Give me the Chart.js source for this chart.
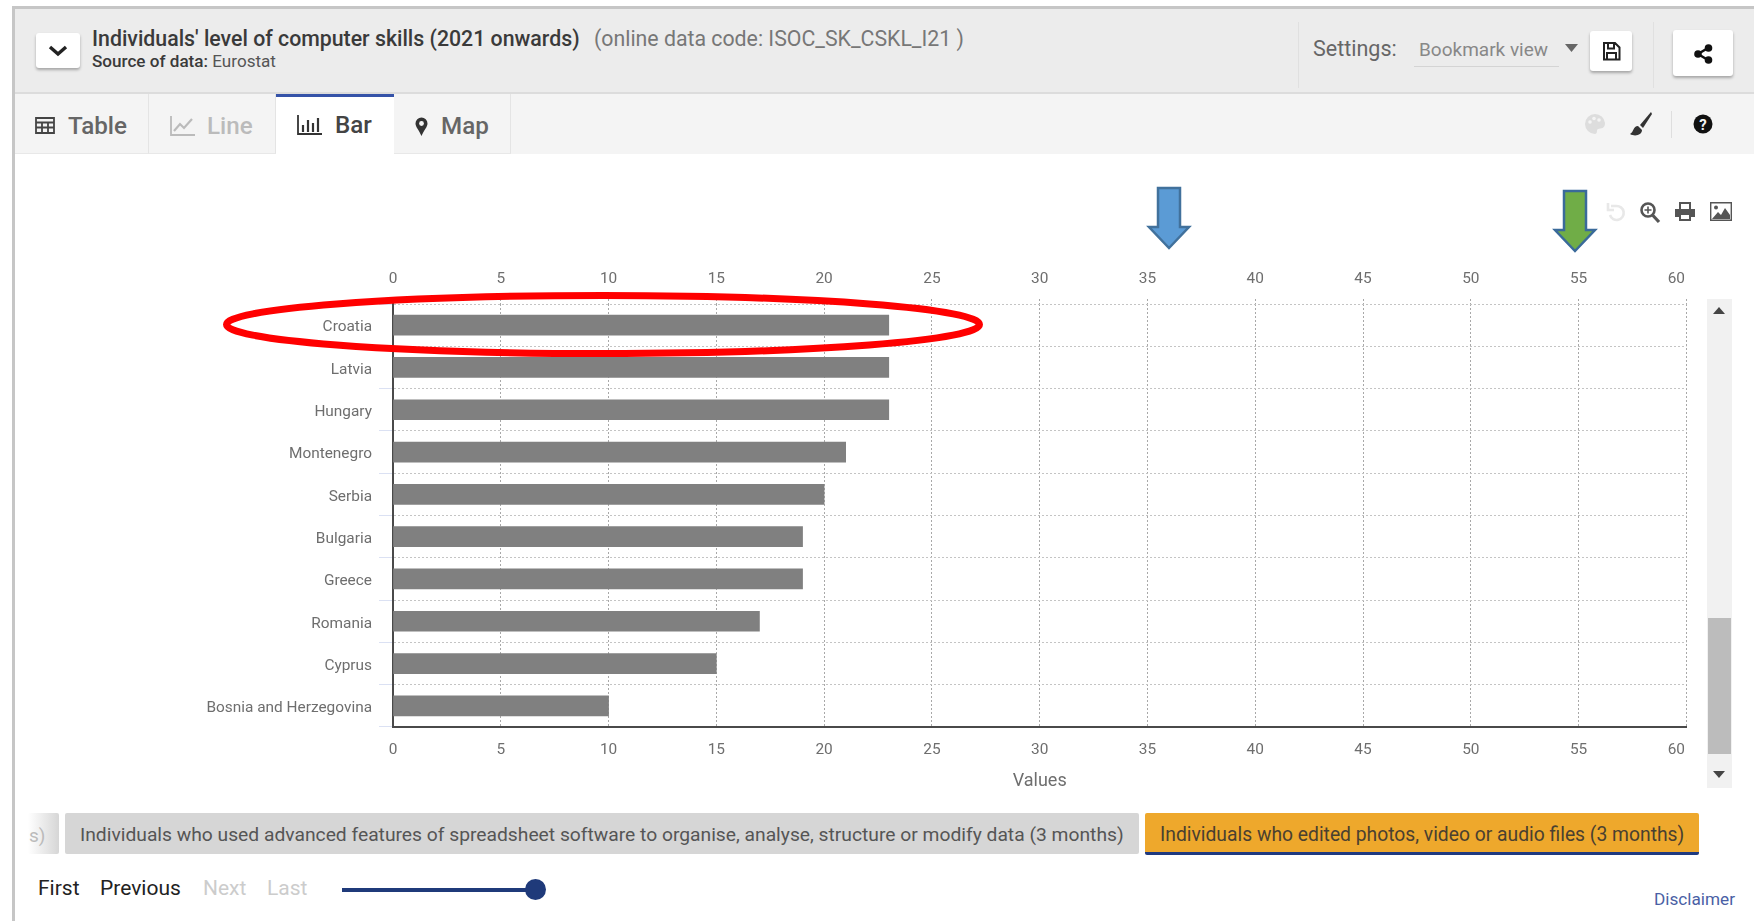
<!DOCTYPE html>
<html>
<head>
<meta charset="utf-8">
<title>Individuals' level of computer skills</title>
<script src="https://cdn.jsdelivr.net/npm/chart.js@4"></script>
<style>
  html, body { margin: 0; padding: 0; background: #fff; }
  body { position: relative; width: 1754px; height: 921px; overflow: hidden; font-family: Roboto, sans-serif; color: #444; }
  .box { position: absolute; box-sizing: border-box; }
  .txt { position: absolute; white-space: nowrap; line-height: 1; transform: translateY(-50%); }
  .btn { background: #fff; border-radius: 3px; box-shadow: 0 2px 3px rgba(0,0,0,.3); }
  .tab { top: 94px; height: 60px; background: #f4f4f4; border-right: 1px solid #e4e4e4; border-bottom: 1px solid #e8e8e8; }
  .ico { position: absolute; overflow: visible; }
  #chartWrap { position: absolute; left: 14px; top: 258px; width: 1695px; height: 540px; }
</style>
</head>
<body>
  <!-- page frame and header -->
  <div class="box" style="left:14px;top:8px;width:1740px;height:86px;background:#ececec;border-bottom:2px solid #dcdcdc"></div>
  <div class="box" style="left:12px;top:6px;width:1742px;height:3px;background:#c6c6c6"></div>
  <div class="box" style="left:12px;top:6px;width:3px;height:915px;background:#c6c6c6"></div>
  <div class="box" style="left:15px;top:94px;width:1739px;height:60px;background:#f4f4f4"></div>

  <div class="box btn" style="left:36px;top:33px;width:44px;height:35px"></div>
  <svg class="ico" style="left:48px;top:45px" width="20" height="12"><path d="M2 2 L10 9 L18 2" fill="none" stroke="#222" stroke-width="3.4"/></svg>

  <div class="txt" style="left:92px;top:39px;font-size:21.3px;font-weight:500;color:#3a3a3a">Individuals' level of computer skills (2021 onwards)</div>
  <div class="txt" style="left:594px;top:39px;font-size:21.3px;color:#777">(online data code: ISOC_SK_CSKL_I21 )</div>
  <div class="txt" style="left:92px;top:62px;font-size:17.1px;color:#555"><b style="font-weight:500;color:#3a3a3a">Source of data:</b> Eurostat</div>

  <div class="box" style="left:1298px;top:22px;width:1px;height:66px;background:#e0e0e0"></div>
  <div class="txt" style="left:1313px;top:49px;font-size:21.5px;color:#666">Settings:</div>
  <div class="txt" style="left:1419px;top:49px;font-size:19px;color:#888">Bookmark view</div>
  <div class="box" style="left:1414px;top:66px;width:145px;height:1px;background:#d4d4d4"></div>
  <svg class="ico" style="left:1565px;top:44px" width="13" height="8"><path d="M0 0 H13 L6.5 8 Z" fill="#666"/></svg>
  <div class="box btn" style="left:1590px;top:31px;width:42px;height:40px"></div>
  <svg class="ico" style="left:1602px;top:42px" width="19" height="19"><path d="M2 1 H13 L17.500 5.500 V17.500 H2 Z M6 1.500 V6.500 H12 V1.500 M5 17 V11 H14 V17" fill="none" stroke="#222" stroke-width="2"/></svg>
  <div class="box" style="left:1653px;top:22px;width:1px;height:66px;background:#e0e0e0"></div>
  <div class="box btn" style="left:1673px;top:30px;width:60px;height:46px"></div>
  <svg class="ico" style="left:1694px;top:44px" width="19" height="20"><path d="M14 4 L4 10 L14 16" fill="none" stroke="#111" stroke-width="2.500"/><circle cx="14.500" cy="4" r="3.800" fill="#111"/><circle cx="4" cy="10" r="3.800" fill="#111"/><circle cx="14.500" cy="16" r="3.800" fill="#111"/></svg>

  <!-- tabs -->
  <div class="box tab" style="left:15px;width:134px"></div>
  <div class="box tab" style="left:149px;width:127px"></div>
  <div class="box" style="left:276px;top:94px;width:118px;height:61px;background:#fff;border-top:3px solid #3553a8"></div>
  <div class="box tab" style="left:394px;width:117px"></div>

  <svg class="ico" style="left:35px;top:117px" width="20" height="17"><path d="M1 1 H19 V16 H1 Z M1 5.500 H19 M1 10.500 H19 M7 5.500 V16 M13 5.500 V16" fill="none" stroke="#444" stroke-width="1.800"/></svg>
  <div class="txt" style="left:68px;top:126px;font-size:24.2px;font-weight:500;color:#666">Table</div>
  <svg class="ico" style="left:170px;top:116px" width="25" height="20"><path d="M1 0 V19 H25" fill="none" stroke="#bbb" stroke-width="1.800"/><path d="M4 15 L10 8 L14 12 L22 3" fill="none" stroke="#bbb" stroke-width="2.200"/></svg>
  <div class="txt" style="left:207px;top:126px;font-size:24.2px;font-weight:500;color:#bbb">Line</div>
  <svg class="ico" style="left:297px;top:115px" width="25" height="20"><path d="M1 0 V19 H25" fill="none" stroke="#333" stroke-width="1.800"/><path d="M6 10 V17 M11 5 V17 M16 8 V17 M21 3 V17" fill="none" stroke="#333" stroke-width="2.200"/></svg>
  <div class="txt" style="left:335px;top:125px;font-size:24.2px;font-weight:500;color:#444">Bar</div>
  <svg class="ico" style="left:415px;top:117px" width="13" height="19"><path d="M6.500 19 C4 13 .5 10 .5 6.500 A6 6 0 0 1 12.500 6.500 C12.500 10 9 13 6.500 19 Z" fill="#333"/><circle cx="6.500" cy="6.500" r="2.400" fill="#f4f4f4"/></svg>
  <div class="txt" style="left:441px;top:126px;font-size:24.2px;font-weight:500;color:#666">Map</div>

  <svg class="ico" style="left:1585px;top:114px" width="20" height="20"><path d="M10 0 A10 10 0 1 0 10 20 C13 20 11 16 13 15 C16 14 20 15 20 9 A10 10 0 0 0 10 0 Z" fill="#ddd"/><circle cx="5" cy="8" r="1.800" fill="#f4f4f4"/><circle cx="9" cy="4.500" r="1.800" fill="#f4f4f4"/><circle cx="14" cy="6" r="1.800" fill="#f4f4f4"/></svg>
  <svg class="ico" style="left:1629px;top:111px" width="23" height="26"><path d="M22 1 L11 14 L14 17 L23 3 Z" fill="#333"/><path d="M9 15 C4 15 5 21 1 23 C6 26 13 24 13 19 Z" fill="#333"/></svg>
  <div class="box" style="left:1671px;top:111px;width:1px;height:27px;background:#dedede"></div>
  <svg class="ico" style="left:1693px;top:114px" width="20" height="20"><circle cx="10" cy="10" r="9.500" fill="#111"/><text x="10" y="15.500" text-anchor="middle" font-family="Roboto" font-size="15" font-weight="700" fill="#f4f4f4">?</text></svg>

  <div id="chartWrap"><canvas id="barChart"></canvas></div>

  <!-- chart toolbar -->
  <svg class="ico" style="left:1607px;top:202px" width="18" height="19"><path d="M4 4 H9 A7 7 0 1 1 3 13" fill="none" stroke="#e8e8e8" stroke-width="2.600"/><path d="M1 1 V8 H7" fill="none" stroke="#e8e8e8" stroke-width="2.600"/></svg>
  <svg class="ico" style="left:1640px;top:202px" width="20" height="21"><circle cx="8" cy="8" r="6.500" fill="none" stroke="#555" stroke-width="2.600"/><path d="M12.500 13 L19 20" stroke="#555" stroke-width="3.200"/><path d="M8 4.500 V11.500 M4.500 8 H11.500" stroke="#555" stroke-width="1.600"/></svg>
  <svg class="ico" style="left:1675px;top:202px" width="20" height="19"><path d="M5 7 V1 H15 V7" fill="none" stroke="#555" stroke-width="2"/><path d="M0 7 H20 V15 H0 Z" fill="#555"/><path d="M5 12 H15 V18 H5 Z" fill="#fff" stroke="#555" stroke-width="2"/></svg>
  <svg class="ico" style="left:1710px;top:202px" width="22" height="19"><path d="M.7 .7 H21.300 V18.300 H.7 Z" fill="#fff" stroke="#555" stroke-width="1.400"/><circle cx="6" cy="5.500" r="2" fill="#555"/><path d="M2 17 L8 10 L11 13 L15 6 L20 13 V17 Z" fill="#555"/></svg>

  <!-- scrollbar -->
  <div class="box" style="left:1707px;top:299px;width:25px;height:489px;background:#f1f1f1"></div>
  <div class="box" style="left:1708px;top:618px;width:23px;height:136px;background:#bcbcbc"></div>
  <svg class="ico" style="left:1713px;top:307px" width="12" height="7"><path d="M6 0 L12 7 H0 Z" fill="#444"/></svg>
  <svg class="ico" style="left:1713px;top:771px" width="12" height="7"><path d="M6 7 L12 0 H0 Z" fill="#444"/></svg>

  <!-- dimension buttons -->
  <div class="box" style="left:28px;top:813px;width:31px;height:41px;background:linear-gradient(to right,#fff,#d6d6d6);border-radius:2px"></div>
  <div class="txt" style="left:29px;top:835px;font-size:19px;color:#bbb">s)</div>
  <div class="box" style="left:65px;top:813px;width:1074px;height:41px;background:#d6d6d6;border-radius:2px"></div>
  <div class="txt" style="left:80px;top:835px;font-size:19.25px;color:#555">Individuals who used advanced features of spreadsheet software to organise, analyse, structure or modify data (3 months)</div>
  <div class="box" style="left:1145px;top:813px;width:554px;height:42px;background:#eea82c;border-bottom:3px solid #1f3a80;border-radius:2px"></div>
  <div class="txt" style="left:1160px;top:835px;font-size:19.3px;color:#4a4030">Individuals who edited photos, video or audio files (3 months)</div>

  <!-- time controls -->
  <div class="txt" style="left:38px;top:888px;font-size:21px;color:#222">First</div>
  <div class="txt" style="left:100px;top:888px;font-size:21px;color:#222">Previous</div>
  <div class="txt" style="left:203px;top:888px;font-size:21px;color:#ccc">Next</div>
  <div class="txt" style="left:267px;top:888px;font-size:21px;color:#ccc">Last</div>
  <div class="box" style="left:342px;top:888px;width:194px;height:4px;background:#1f3a7a"></div>
  <div class="box" style="left:525px;top:879px;width:21px;height:21px;border-radius:50%;background:#1f3a7a"></div>
  <div class="txt" style="left:1654px;top:900px;font-size:17.2px;color:#4a5fa5">Disclaimer</div>

  <!-- hand drawn annotations on top of the screenshot -->
  <svg class="ico" style="left:0;top:0;pointer-events:none" width="1754" height="921">
    <ellipse cx="603" cy="324.500" rx="376.500" ry="29" fill="none" stroke="#ff0000" stroke-width="7"/>
    <path d="M1158 188 H1180 V227 H1189 L1169 248 L1149 227 H1158 Z" fill="#5b9bd5" stroke="#41719c" stroke-width="2.500"/>
    <path d="M1564 191 H1586 V230 H1595 L1575 251 L1555 230 H1564 Z" fill="#70ad47" stroke="#3a6a9a" stroke-width="2.500"/>
  </svg>

<script>
// values
const countries = ['Croatia', 'Latvia', 'Hungary', 'Montenegro', 'Serbia', 'Bulgaria', 'Greece', 'Romania', 'Cyprus', 'Bosnia and Herzegovina'];
const skillValues = [23, 23, 23, 21, 20, 19, 19, 17, 15, 10];
const axisMin = 0;
const axisMax = 60;
const axisStep = 5;

const tickFont = { family: 'Roboto', size: 15.4 };
const tickColor = '#6e6e6e';
const gridColor = '#a8a8a8';
const dots = [2, 2];

// the last value label sits inside the plot edge, not centred on its gridline
const pullLastLabel = {
    id: 'pullLastLabel',
    beforeDraw(chart) {
        ['x', 'xTop'].forEach(id => {
            const items = chart.scales[id].getLabelItems();
            const last = items[items.length - 1];
            if (last && !last.pulled) {
                last.options.translation[0] -= 10;
                last.pulled = true;
            }
        });
    }
};

new Chart(document.getElementById('barChart').getContext('2d'), {
    type: 'bar',
    data: {
        labels: countries,
        datasets: [{
            label: 'Values',
            data: skillValues,
            backgroundColor: '#808080',
            barThickness: 20,
            xAxisID: 'x'
        }]
    },
    options: {
        indexAxis: 'y',
        responsive: true,
        maintainAspectRatio: false,
        animation: false,
        layout: { padding: { left: 0, right: 16.5, top: 0, bottom: 0 } },
        plugins: {
            legend: { display: false },
            tooltip: { enabled: false }
        },
        scales: {
            x: {
                position: 'bottom',
                min: axisMin,
                max: axisMax,
                afterFit: scale => { scale.height = 71; },
                ticks: { stepSize: axisStep, color: tickColor, font: tickFont, padding: 14, maxRotation: 0 },
                grid: { color: gridColor, drawTicks: false, lineWidth: 1 },
                border: { color: '#4a4a4a', width: 2, dash: dots },
                title: { display: true, text: 'Values', color: tickColor, font: { family: 'Roboto', size: 18 }, padding: { top: 0, bottom: 6 } }
            },
            xTop: {
                position: 'top',
                type: 'linear',
                min: axisMin,
                max: axisMax,
                afterFit: scale => { scale.height = 46; },
                ticks: { stepSize: axisStep, color: tickColor, font: tickFont, padding: 11, maxRotation: 0 },
                grid: { drawOnChartArea: false, tickLength: 5, tickColor: gridColor, tickBorderDash: dots },
                border: { display: false }
            },
            y: {
                afterFit: scale => { scale.width = 379; },
                ticks: { color: tickColor, font: tickFont, padding: 7, labelOffset: 2.5 },
                grid: { color: '#c4c4c4', offset: true, tickLength: 14, tickColor: '#dbe1f3', tickBorderDash: [] },
                border: { color: '#4a4a4a', width: 2, dash: dots }
            }
        }
    },
    plugins: [pullLastLabel]
});
</script>
</body>
</html>
